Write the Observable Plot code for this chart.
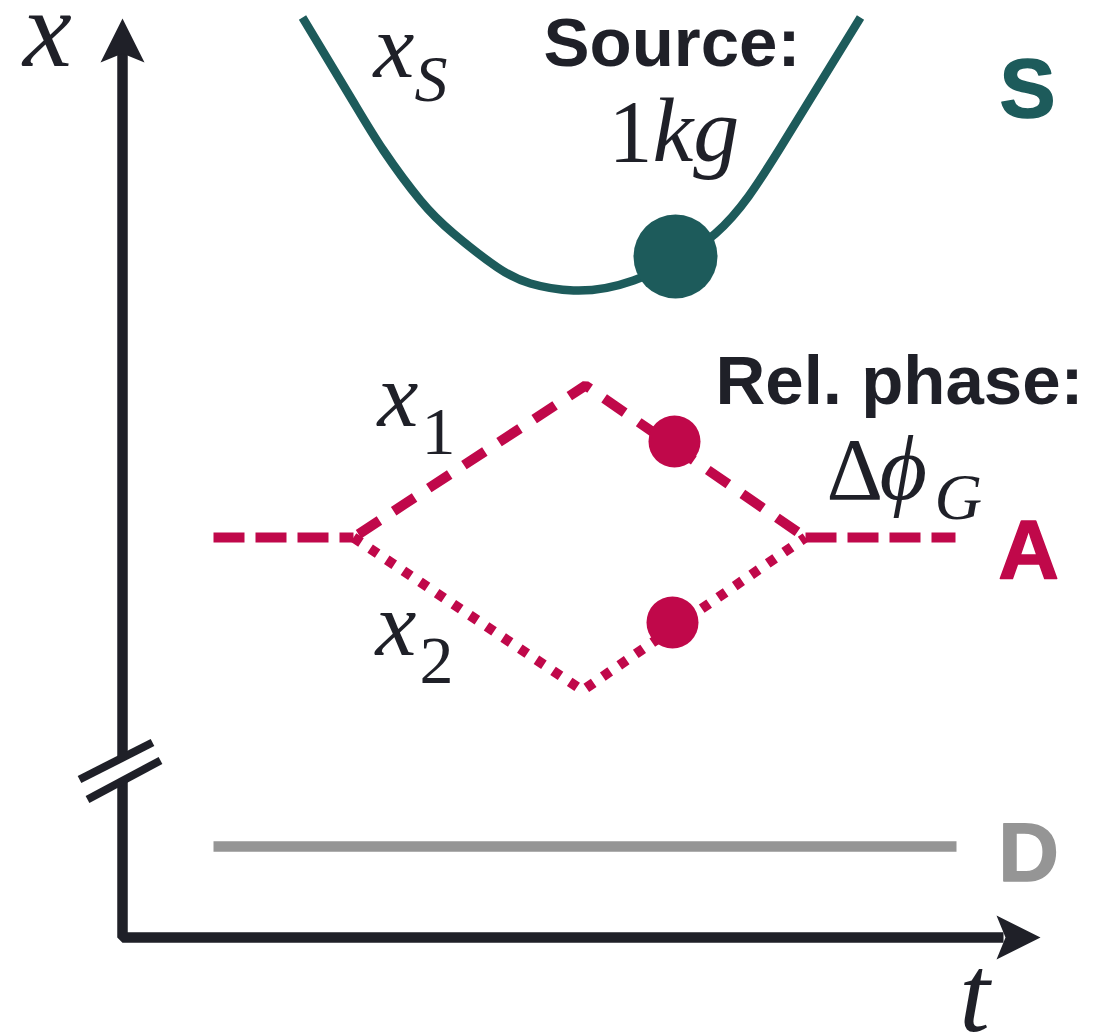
<!DOCTYPE html>
<html>
<head>
<meta charset="utf-8">
<script src="https://cdn.jsdelivr.net/npm/d3@7"></script>
<script src="https://cdn.jsdelivr.net/npm/@observablehq/plot@0.6"></script>
<style>
  html, body { margin: 0; padding: 0; background: #ffffff; }
  #chart svg { display: block; }
</style>
</head>
<body>
<div id="chart"></div>
<script>
// ---------- data (t = time axis, x = position axis; origin at the axes corner) ----------
const axisUpper = [{t: 0, x: 8.85}, {t: 0, x: 1.80}];
const axisLower = [{t: 0, x: 1.56}, {t: 0, x: 0}, {t: 8.81, x: 0}];
const axisBreaks = [
  {t1: -0.43, x1: 1.58, t2: 0.30, x2: 1.95},
  {t1: -0.35, x1: 1.38, t2: 0.38, x2: 1.77}
];
const axisTipUp = [{t: 0, x: 9.19}];
const axisTipRight = [{t: 9.18, x: 0}];

// source trajectory x_S
const sourceT = [1.80, 2.30, 2.61, 2.98, 3.31, 3.75, 4.08, 4.51, 5.11, 5.93, 6.58, 7.38];
const sourceX = [9.20, 8.37, 7.87, 7.37, 7.04, 6.70, 6.54, 6.47, 6.57, 7.04, 7.90, 9.20];
const sourceMass = [{t: 5.53, x: 6.81}];

// atom interferometer A
const armUpper = [{t: 2.31, x: 4.00}, {t: 4.63, x: 5.52}, {t: 6.83, x: 4.00}];
const armLower = [{t: 2.31, x: 4.00}, {t: 4.60, x: 2.47}, {t: 6.83, x: 4.00}];
const atomInOut = [
  {seg: "in", t: 0.91, x: 4.00}, {seg: "in", t: 2.31, x: 4.00},
  {seg: "out", t: 6.83, x: 4.00}, {seg: "out", t: 8.33, x: 4.00}
];
const atomDots = [{t: 5.52, x: 4.96}, {t: 5.50, x: 3.15}];

// detector D
const detector = [{t: 0.91, x: 0.91}, {t: 8.34, x: 0.91}];

// labels
const axisLabels = [{text: "x", t: -0.75, x: 8.72}, {text: "t", t: 8.52, x: -0.93}];
const mathLabels = [
  {text: "x", t: 2.51, x: 8.61},
  {text: "x", t: 2.55, x: 5.12},
  {text: "x", t: 2.53, x: 2.83},
  {text: "kg", t: 5.30, x: 7.77},
  {text: "ϕ", t: 7.57, x: 4.39}
];
const uprightLabels = [
  {text: "1", t: 4.86, x: 7.77},
  {text: "Δ", t: 7.04, x: 4.39}
];
const subItalic = [
  {text: "S", t: 2.92, x: 8.37},
  {text: "G", t: 8.12, x: 4.19}
];
const subUpright = [
  {text: "1", t: 2.99, x: 4.84},
  {text: "2", t: 2.97, x: 2.55}
];
const boldLabels = [
  {text: "Source:", t: 5.495, x: 8.72},
  {text: "Rel. phase:", t: 7.77, x: 5.34}
];
const regionLabels = [
  {text: "S", t: 9.05, x: 8.21},
  {text: "A", t: 9.06, x: 3.59},
  {text: "D", t: 9.06, x: 0.57}
];

// ---------- styles ----------
const INK = "#1f2028";
const TEAL = "#1d5b5b";
const RED = "#c0084a";
const GREY = "#959595";
const SERIF = "'Liberation Serif', 'DejaVu Serif', serif";
const SANS = "'Liberation Sans', Arial, sans-serif";

const arrowUp = {draw(ctx) { ctx.moveTo(0, 0); ctx.lineTo(22, 44); ctx.lineTo(0, 35); ctx.lineTo(-22, 44); ctx.closePath(); }};
const arrowRight = {draw(ctx) { ctx.moveTo(0, 0); ctx.lineTo(-44, 22); ctx.lineTo(-35, 0); ctx.lineTo(-44, -22); ctx.closePath(); }};

const sourcePath = sourceT.map((t, i) => ({t, x: sourceX[i]}));

const chart = Plot.plot({
  width: 1099,
  height: 1036,
  margin: 0,
  x: {domain: [-1.22, 9.77], axis: null},
  y: {domain: [-0.99, 9.37], axis: null},
  style: {background: "#ffffff", overflow: "visible"},
  marks: [
    // axes
    Plot.line(axisUpper, {x: "t", y: "x", stroke: INK, strokeWidth: 10.5, strokeLinecap: "butt"}),
    Plot.line(axisLower, {x: "t", y: "x", stroke: INK, strokeWidth: 10.5, strokeLinecap: "butt", strokeLinejoin: "miter"}),
    Plot.link(axisBreaks, {x1: "t1", y1: "x1", x2: "t2", y2: "x2", stroke: INK, strokeWidth: 8, strokeLinecap: "butt"}),
    Plot.dot(axisTipUp, {x: "t", y: "x", symbol: arrowUp, fill: INK, stroke: "none"}),
    Plot.dot(axisTipRight, {x: "t", y: "x", symbol: arrowRight, fill: INK, stroke: "none"}),
    // detector
    Plot.line(detector, {x: "t", y: "x", stroke: GREY, strokeWidth: 10.5, strokeLinecap: "butt"}),
    // source
    Plot.line(sourcePath, {x: "t", y: "x", curve: "natural", stroke: TEAL, strokeWidth: 8.5, strokeLinecap: "butt"}),
    Plot.dot(sourceMass, {x: "t", y: "x", r: 42, fill: TEAL, stroke: "none"}),
    // atom interferometer
    Plot.line(atomInOut, {x: "t", y: "x", z: "seg", stroke: RED, strokeWidth: 10, strokeDasharray: "31,11", strokeLinecap: "butt"}),
    Plot.line(armUpper, {x: "t", y: "x", stroke: RED, strokeWidth: 10, strokeDasharray: "25,17", strokeDashoffset: -6, strokeLinecap: "butt", strokeLinejoin: "miter"}),
    Plot.line(armLower, {x: "t", y: "x", stroke: RED, strokeWidth: 10, strokeDasharray: "9,11", strokeLinecap: "butt", strokeLinejoin: "miter"}),
    Plot.dot(atomDots, {x: "t", y: "x", r: 26, fill: RED, stroke: "none"}),
    // labels
    Plot.text(axisLabels, {x: "t", y: "x", text: "text", fontFamily: SERIF, fontStyle: "italic", fontSize: 110, fill: INK, lineAnchor: "bottom", textAnchor: "middle"}),
    Plot.text(mathLabels, {x: "t", y: "x", text: "text", fontFamily: SERIF, fontStyle: "italic", fontSize: 92, fill: INK, lineAnchor: "bottom", textAnchor: "start"}),
    Plot.text(uprightLabels, {x: "t", y: "x", text: "text", fontFamily: SERIF, fontSize: 88, fill: INK, lineAnchor: "bottom", textAnchor: "start"}),
    Plot.text(subItalic, {x: "t", y: "x", text: "text", fontFamily: SERIF, fontStyle: "italic", fontSize: 66, fill: INK, lineAnchor: "bottom", textAnchor: "start"}),
    Plot.text(subUpright, {x: "t", y: "x", text: "text", fontFamily: SERIF, fontSize: 68, fill: INK, lineAnchor: "bottom", textAnchor: "start"}),
    Plot.text(boldLabels, {x: "t", y: "x", text: "text", fontFamily: SANS, fontWeight: "bold", fontSize: 69, fill: INK, lineAnchor: "bottom", textAnchor: "middle"}),
    Plot.text(regionLabels, {x: "t", y: "x", text: "text", fontFamily: SANS, fontWeight: "bold", fontSize: 84, lineAnchor: "bottom", textAnchor: "middle",
      fill: d => d.text, stroke: d => d.text, strokeWidth: 1.5, strokeLinejoin: "round"})
  ],
  color: {domain: ["S", "A", "D"], range: [TEAL, RED, GREY]}
});

document.getElementById("chart").appendChild(chart);
</script>
</body>
</html>
